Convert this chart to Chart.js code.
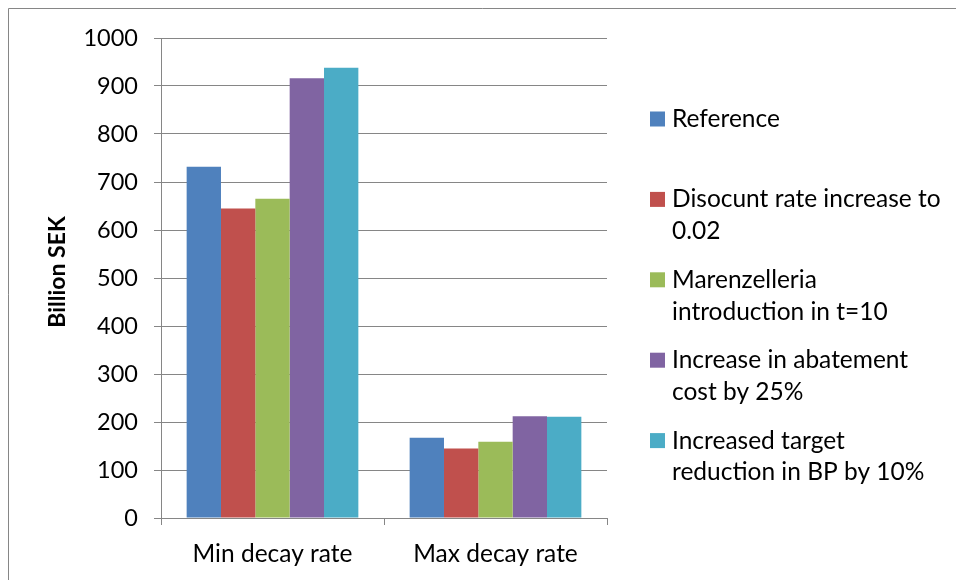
<!DOCTYPE html>
<html>
<head>
<meta charset="utf-8">
<title>Billion SEK by decay rate</title>
<script src="https://cdn.jsdelivr.net/npm/chart.js@4/dist/chart.umd.min.js"></script>
<style>
  html, body { margin: 0; padding: 0; background: #ffffff; }
  #wrap { width: 956px; height: 580px; position: relative; }
  canvas { display: block; }
</style>
</head>
<body>
<div id="wrap"><canvas id="chart" width="956" height="580"></canvas></div>
<script>
// Categories on the x axis
const categories = ['Min decay rate', 'Max decay rate'];

// Series values (Billion SEK)
const reference       = [732, 167];
const discountRate    = [645, 145];
const marenzelleria   = [665, 159];
const abatementCost   = [916, 212];
const targetReduction = [938, 211];

// Series names, split into the lines shown in the legend
const seriesNames = [
  ['Reference'],
  ['Disocunt rate increase to', '0.02'],
  ['Marenzelleria', 'introduction in t=10'],
  ['Increase in abatement', 'cost by 25%'],
  ['Increased target', 'reduction in BP by 10%']
];

// Value axis ticks
const yTicks = [0, 100, 200, 300, 400, 500, 600, 700, 800, 900, 1000];
const yTitle = 'Billion SEK';

const seriesValues = [reference, discountRate, marenzelleria, abatementCost, targetReduction];
const seriesColors = ['#4F81BD', '#C0504D', '#9BBB59', '#8064A2', '#4BACC6'];

const FONT_FAMILY = 'Lato, "Open Sans", "DejaVu Sans", sans-serif';
const AXIS_GREY = '#868686';

// White background, outer frame and rotated value-axis title
const framePlugin = {
  id: 'frame',
  beforeDraw(chart) {
    const ctx = chart.ctx;
    ctx.save();
    ctx.fillStyle = '#ffffff';
    ctx.fillRect(0, 0, chart.width, chart.height);
    ctx.strokeStyle = AXIS_GREY;
    ctx.lineWidth = 1;
    ctx.beginPath();
    ctx.moveTo(8.5, chart.height);
    ctx.lineTo(8.5, 8.5);
    ctx.lineTo(chart.width, 8.5);
    ctx.stroke();
    ctx.restore();
  },
  afterDraw(chart) {
    const ctx = chart.ctx;
    ctx.save();
    ctx.translate(58, 272);
    ctx.rotate(-Math.PI / 2);
    ctx.fillStyle = '#000000';
    ctx.font = 'bold 23px ' + FONT_FAMILY;
    ctx.textAlign = 'center';
    ctx.textBaseline = 'middle';
    ctx.fillText(yTitle, 0, 0);
    ctx.restore();
  }
};

// Legend on the right with wrapped series names
const sideLegend = {
  id: 'sideLegend',
  afterDraw(chart) {
    const ctx = chart.ctx;
    const markerX = 650, textX = 672, firstBaseline = 127, slot = 80.4, lineGap = 31.7, box = 15;
    ctx.save();
    ctx.font = '24.5px ' + FONT_FAMILY;
    ctx.textAlign = 'left';
    ctx.textBaseline = 'alphabetic';
    chart.data.datasets.forEach((ds, i) => {
      const base = firstBaseline + i * slot;
      ctx.fillStyle = ds.backgroundColor;
      ctx.fillRect(markerX, base - 15.5, box, box);
      ctx.fillStyle = '#000000';
      ds.legendLines.forEach((line, j) => {
        ctx.fillText(line, textX, base + j * lineGap);
      });
    });
    ctx.restore();
  }
};

const datasets = seriesValues.map((values, i) => ({
  label: seriesNames[i].join(' '),
  legendLines: seriesNames[i],
  data: values,
  backgroundColor: seriesColors[i],
  borderWidth: 0,
  categoryPercentage: 0.77,
  barPercentage: 1.0
}));

new Chart(document.getElementById('chart'), {
  type: 'bar',
  data: { labels: categories, datasets },
  plugins: [framePlugin, sideLegend],
  options: {
    responsive: false,
    animation: false,
    devicePixelRatio: 1,
    layout: { padding: { top: 38, right: 349, left: 0, bottom: 0 } },
    plugins: {
      legend: { display: false },
      tooltip: { enabled: false },
      title: { display: false }
    },
    scales: {
      x: {
        afterFit(scale) { scale.height = 62; },
        grid: {
          display: true,
          drawOnChartArea: false,
          drawTicks: true,
          tickLength: 7,
          offset: true,
          color: AXIS_GREY,
          lineWidth: 1
        },
        border: { display: true, color: AXIS_GREY, width: 1 },
        ticks: {
          color: '#000000',
          font: { family: FONT_FAMILY, size: 24.5 },
          padding: 14,
          maxRotation: 0
        }
      },
      y: {
        min: 0,
        max: 1000,
        afterFit(scale) { scale.width = 161; },
        afterBuildTicks(scale) { scale.ticks = yTicks.map(v => ({ value: v })); },
        grid: {
          color: AXIS_GREY,
          lineWidth: 1,
          drawTicks: true,
          tickLength: 7
        },
        border: { display: true, color: AXIS_GREY, width: 1 },
        ticks: {
          color: '#000000',
          font: { family: FONT_FAMILY, size: 23.5 },
          padding: 16,
          callback: (value) => String(value)
        }
      }
    }
  }
});
</script>
</body>
</html>
